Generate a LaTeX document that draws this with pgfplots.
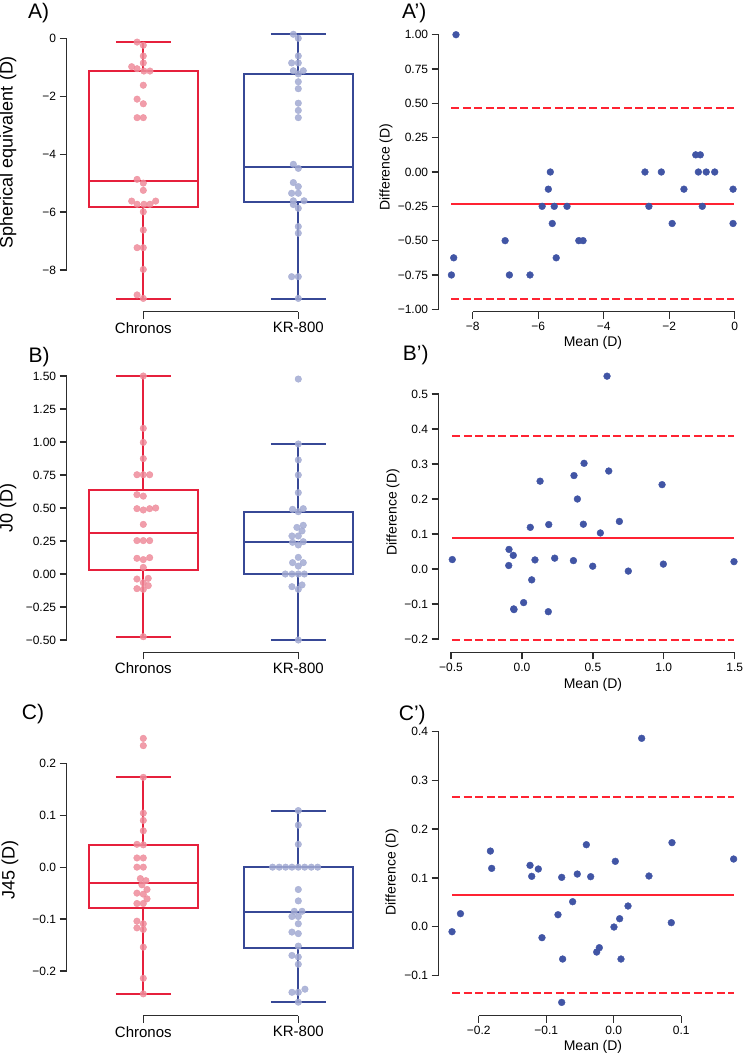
\documentclass[border=0pt]{standalone}
\usepackage{pgfplots}
\pgfplotsset{compat=1.18}
\usepgfplotslibrary{statistics}
\usepackage{fontspec}
\setmainfont{Liberation Sans}
\definecolor{boxred}{RGB}{230,32,60}
\definecolor{boxblue}{RGB}{55,72,150}
\definecolor{ptred}{RGB}{238,140,155}
\definecolor{ptblue}{RGB}{162,170,210}
\definecolor{bapt}{RGB}{65,85,165}
\definecolor{baline}{RGB}{255,35,50}
\definecolor{spine}{RGB}{45,45,45}
\pgfplotsset{
  panel/.style={scale only axis, clip=false, axis lines=left,
    axis line style={-, draw=spine, line width=1.5pt},
    tick align=outside, major tick length=7pt,
    tick style={draw=spine, line width=1.3pt},
    ticklabel style={font=\fontsize{12}{14}\selectfont},
    anchor=south west},
  catx/.style={xtick={0,1}, xticklabels={Chronos,KR-800},
    xticklabel style={font=\fontsize{15}{18}\selectfont}},
  bx/.style={line width=1.9pt, fill=none, solid, boxplot/draw direction=y},
  redpts/.style={only marks, mark=*, mark size=3.3pt,
    mark options={draw=ptred, fill=ptred, fill opacity=0.85, draw opacity=0.85}},
  bluepts/.style={only marks, mark=*, mark size=3.3pt,
    mark options={draw=ptblue, fill=ptblue, fill opacity=0.85, draw opacity=0.85}},
  bapts/.style={only marks, mark=*, mark size=3.4pt, mark options={draw=bapt, fill=bapt}},
  bamean/.style={draw=baline, line width=2pt, solid, mark=none},
  balim/.style={draw=baline, line width=2pt, dash pattern=on 8pt off 3.5pt, mark=none},
}
\begin{document}
\begin{tikzpicture}
\useasboundingbox (0,0) rectangle (744pt,-1055pt);
% ---------------- A ----------------
\begin{axis}[panel, catx, at={(143.3pt,-270pt)}, width=155pt, height=231.7pt,
  xmin=0, xmax=1, ymin=-8, ymax=0, axis x line shift=41.7pt, axis y line shift=76.6pt,
  ytick={-8,-6,-4,-2,0}, yticklabels={−8,−6,−4,−2,0}]
\addplot[bx, draw=boxred, boxplot prepared={draw position=0, lower whisker=-9.0, lower quartile=-5.81, median=-4.93, upper quartile=-1.12, upper whisker=-0.13, box extend=0.7, whisker extend=0.355}] coordinates {};
\addplot[bx, draw=boxblue, boxplot prepared={draw position=1, lower whisker=-9.0, lower quartile=-5.65, median=-4.43, upper quartile=-1.23, upper whisker=0.14, box extend=0.7, whisker extend=0.355}] coordinates {};
\addplot[redpts] table {
x y
-0.04 -0.13
0 -0.24
0 -0.61
0 -0.85
-0.075 -0.98
-0.04 -1.05
0.004 -1.13
0.043 -1.13
0 -1.62
-0.04 -2.10
0 -2.26
-0.04 -2.74
0 -2.74
-0.04 -4.87
0 -5.00
0 -5.25
-0.075 -5.62
0.08 -5.62
-0.04 -5.73
0.004 -5.73
0.043 -5.73
0 -5.99
0 -6.62
-0.04 -7.23
0 -7.23
0 -7.98
-0.04 -8.86
0 -8.98
};
\addplot[bluepts] table {
x y
0.968 0.14
1 0.0
1 -0.61
0.957 -0.85
1 -0.85
0.968 -1.12
1.032 -1.12
1 -1.23
1 -1.50
1 -1.74
1 -2.24
1 -2.49
1 -2.74
0.968 -4.35
1 -4.49
0.968 -4.98
1 -5.12
0.957 -5.35
1 -5.35
0.968 -5.61
1.037 -5.61
0.968 -5.74
1 -5.87
1 -6.50
1 -6.73
0.957 -8.23
1 -8.23
1 -8.98
};
\end{axis}
% ---------------- A' ----------------
\begin{axis}[panel, at={(472.7pt,-309.3pt)}, width=262pt, height=274.6pt,
  xmin=-8, xmax=0, ymin=-1, ymax=1, axis x line shift=2.4pt, axis y line shift=34pt,
  xtick={-8,-6,-4,-2,0}, xticklabels={−8,−6,−4,−2,0},
  ytick={-1,-0.75,-0.5,-0.25,0,0.25,0.5,0.75,1},
  yticklabels={−1.00,−0.75,−0.50,−0.25,0.00,0.25,0.50,0.75,1.00}]
\addplot[bamean] coordinates {(-8.65,-0.232) (-0.03,-0.232)};
\addplot[balim] coordinates {(-8.65,0.464) (-0.03,0.464)};
\addplot[balim] coordinates {(-8.65,-0.926) (-0.03,-0.926)};
\addplot[bapts] table {
x y
-8.51 1.00
-8.58 -0.625
-8.65 -0.75
-7.01 -0.5
-6.88 -0.75
-6.25 -0.75
-5.88 -0.25
-5.69 -0.125
-5.63 0
-5.57 -0.375
-5.51 -0.25
-5.45 -0.625
-5.12 -0.25
-4.76 -0.5
-4.63 -0.5
-2.74 0
-2.62 -0.25
-2.24 0
-1.91 -0.375
-1.55 -0.125
-1.19 0.125
-1.05 0.125
-1.11 0
-0.99 -0.25
-0.87 0
-0.61 0
-0.05 -0.125
-0.05 -0.375
};
\end{axis}
% ---------------- B ----------------
\begin{axis}[panel, catx, at={(143.3pt,-640pt)}, width=155pt, height=264pt,
  xmin=0, xmax=1, ymin=-0.5, ymax=1.5, axis x line shift=12.3pt, axis y line shift=76.6pt,
  ytick={-0.5,-0.25,0,0.25,0.5,0.75,1,1.25,1.5},
  yticklabels={−0.50,−0.25,0.00,0.25,0.50,0.75,1.00,1.25,1.50}]
\addplot[bx, draw=boxred, boxplot prepared={draw position=0, lower whisker=-0.475, lower quartile=0.033, median=0.313, upper quartile=0.636, upper whisker=1.5, box extend=0.7, whisker extend=0.355}] coordinates {};
\addplot[bx, draw=boxblue, boxplot prepared={draw position=1, lower whisker=-0.5, lower quartile=0.0, median=0.24, upper quartile=0.472, upper whisker=0.985, box extend=0.7, whisker extend=0.355}] coordinates {};
\addplot[redpts] table {
x y
0 1.50
0 1.104
0 0.997
0 0.874
-0.041 0.752
0 0.752
0.041 0.752
-0.041 0.601
0 0.590
-0.041 0.495
0 0.485
0.041 0.495
0.08 0.50
0 0.376
-0.041 0.253
0 0.253
0.041 0.253
-0.041 0.119
0 0.109
0.041 0.124
0 0.05
-0.041 -0.038
0.032 -0.033
0 -0.066
0.032 -0.088
-0.041 -0.111
0 -0.116
0 -0.475
};
\addplot[bluepts] table {
x y
1 1.477
1 0.985
1 0.864
1 0.75
1 0.616
0.963 0.49
1 0.472
1.032 0.495
1.032 0.369
0.991 0.353
1.024 0.326
0.959 0.288
1 0.288
0.963 0.24
1 0.22
1.032 0.245
1 0.126
0.963 0.086
1 0.06
1.032 0.086
0.916 0.0
0.959 0.0
1 0.0
1.039 0.0
0.959 -0.096
1.024 -0.083
1 -0.116
1 -0.5
};
\end{axis}
% ---------------- B' ----------------
\begin{axis}[panel, at={(451pt,-639pt)}, width=283.7pt, height=245pt,
  xmin=-0.5, xmax=1.5, ymin=-0.2, ymax=0.5, axis x line shift=13.3pt, axis y line shift=12.3pt,
  xtick={-0.5,0,0.5,1,1.5}, xticklabels={−0.5,0.0,0.5,1.0,1.5},
  ytick={-0.2,-0.1,0,0.1,0.2,0.3,0.4,0.5},
  yticklabels={−0.2,−0.1,0.0,0.1,0.2,0.3,0.4,0.5}]
\addplot[bamean] coordinates {(-0.491,0.088) (1.495,0.088)};
\addplot[balim] coordinates {(-0.491,0.38) (1.495,0.38)};
\addplot[balim] coordinates {(-0.491,-0.204) (1.495,-0.204)};
\addplot[bapts] table {
x y
0.600 0.551
0.438 0.302
0.367 0.267
0.612 0.280
0.128 0.251
0.988 0.241
0.391 0.200
0.059 0.119
0.189 0.127
0.433 0.128
0.553 0.103
0.687 0.136
-0.091 0.056
-0.061 0.039
-0.491 0.027
0.092 0.026
0.231 0.031
0.363 0.024
-0.093 0.010
0.499 0.008
0.750 -0.006
0.997 0.014
1.495 0.021
0.069 -0.031
0.012 -0.096
-0.058 -0.114
-0.056 -0.116
0.186 -0.122
};
\end{axis}
% ---------------- C ----------------
\begin{axis}[panel, catx, at={(143.3pt,-971pt)}, width=155pt, height=207.7pt,
  xmin=0, xmax=1, ymin=-0.2, ymax=0.2, axis x line shift=44.7pt, axis y line shift=76.6pt,
  ytick={-0.2,-0.1,0,0.1,0.2}, yticklabels={−0.2,−0.1,0.0,0.1,0.2}]
\addplot[bx, draw=boxred, boxplot prepared={draw position=0, lower whisker=-0.244, lower quartile=-0.0787, median=-0.0305, upper quartile=0.0433, upper whisker=0.173, box extend=0.7, whisker extend=0.355}] coordinates {};
\addplot[bx, draw=boxblue, boxplot prepared={draw position=1, lower whisker=-0.260, lower quartile=-0.1557, median=-0.0857, upper quartile=0.0, upper whisker=0.109, box extend=0.7, whisker extend=0.355}] coordinates {};
\addplot[redpts] table {
x y
0 0.248
0 0.234
0 0.173
0 0.104
0 0.090
0 0.070
-0.041 0.044
0 0.043
-0.041 0.0177
0 0.0177
-0.041 0.0
0 0.0
-0.019 -0.022
0.017 -0.026
-0.009 -0.034
0.024 -0.043
-0.041 -0.050
0 -0.052
0.024 -0.061
-0.041 -0.070
0 -0.070
-0.041 -0.104
0 -0.109
-0.041 -0.117
0 -0.120
0 -0.154
0 -0.214
0 -0.244
};
\addplot[bluepts] table {
x y
1 0.109
1 0.081
1 0.044
0.834 0
0.877 0
0.918 0
0.959 0
1 0
1.041 0
1.084 0
1.125 0
1 -0.043
1 -0.065
0.974 -0.085
1.024 -0.085
0.959 -0.095
1 -0.095
1 -0.109
0.959 -0.125
1 -0.128
1 -0.152
0.959 -0.170
1 -0.173
1 -0.187
1.043 -0.235
0.959 -0.241
1 -0.241
1 -0.260
};
\end{axis}
% ---------------- C' ----------------
\begin{axis}[panel, at={(478.7pt,-975.7pt)}, width=202.6pt, height=244.4pt,
  xmin=-0.2, xmax=0.1, ymin=-0.1, ymax=0.4, axis x line shift=40pt, axis y line shift=40pt,
  xtick={-0.2,-0.1,0,0.1}, xticklabels={−0.2,−0.1,0.0,0.1},
  ytick={-0.1,0,0.1,0.2,0.3,0.4}, yticklabels={−0.1,0.0,0.1,0.2,0.3,0.4}]
\addplot[bamean] coordinates {(-0.2395,0.0644) (0.1775,0.0644)};
\addplot[balim] coordinates {(-0.2395,0.2656) (0.1775,0.2656)};
\addplot[balim] coordinates {(-0.2395,-0.1362) (0.1775,-0.1362)};
\addplot[bapts] table {
x y
-0.2395 -0.0100
-0.2270 0.0269
-0.1827 0.1550
-0.1808 0.1196
-0.1240 0.1258
-0.1215 0.1033
-0.1117 0.1183
-0.1063 -0.0222
-0.0826 0.0248
-0.0771 0.1012
-0.0757 -0.0659
-0.0771 -0.1546
-0.0609 0.0514
-0.0540 0.1080
-0.0406 0.1680
-0.0342 0.1026
-0.0253 -0.0516
-0.0214 -0.0427
0.0003 -0.0004
0.0023 0.1340
0.0087 0.0166
0.0107 -0.0659
0.0211 0.0426
0.0413 0.3857
0.0521 0.1040
0.0852 0.0085
0.0862 0.1722
0.1775 0.1387
};
\end{axis}
% ---------------- texts ----------------
\begin{scope}[every node/.style={inner sep=0pt}]
\node[anchor=base west, font=\fontsize{21}{24}\selectfont] at (28pt,-18.3pt) {A)};
\node[anchor=base west, font=\fontsize{21}{24}\selectfont] at (402pt,-18.3pt) {A’)};
\node[anchor=base west, font=\fontsize{21}{24}\selectfont] at (28.3pt,-362.3pt) {B)};
\node[anchor=base west, font=\fontsize{21}{24}\selectfont] at (402.7pt,-360.7pt) {B’)};
\node[anchor=base west, font=\fontsize{21}{24}\selectfont] at (21.7pt,-719.3pt) {C)};
\node[anchor=base west, font=\fontsize{21}{24}\selectfont] at (398.7pt,-720pt) {C’)};
\node[rotate=90, font=\fontsize{18}{21}\selectfont] at (8pt,-152pt) {Spherical equivalent (D)};
\node[rotate=90, font=\fontsize{18}{21}\selectfont] at (8pt,-508pt) {J0 (D)};
\node[rotate=90, font=\fontsize{18}{21}\selectfont] at (10pt,-870pt) {J45 (D)};
\node[rotate=90, font=\fontsize{14}{16}\selectfont] at (386pt,-167pt) {Difference (D)};
\node[rotate=90, font=\fontsize{14}{16}\selectfont] at (393pt,-512pt) {Difference (D)};
\node[rotate=90, font=\fontsize{14}{16}\selectfont] at (392pt,-872pt) {Difference (D)};
\node[font=\fontsize{14}{16}\selectfont] at (593pt,-343pt) {Mean (D)};
\node[font=\fontsize{14}{16}\selectfont] at (593pt,-685pt) {Mean (D)};
\node[font=\fontsize{14}{16}\selectfont] at (593pt,-1046.7pt) {Mean (D)};
\end{scope}
\end{tikzpicture}
\end{document}
